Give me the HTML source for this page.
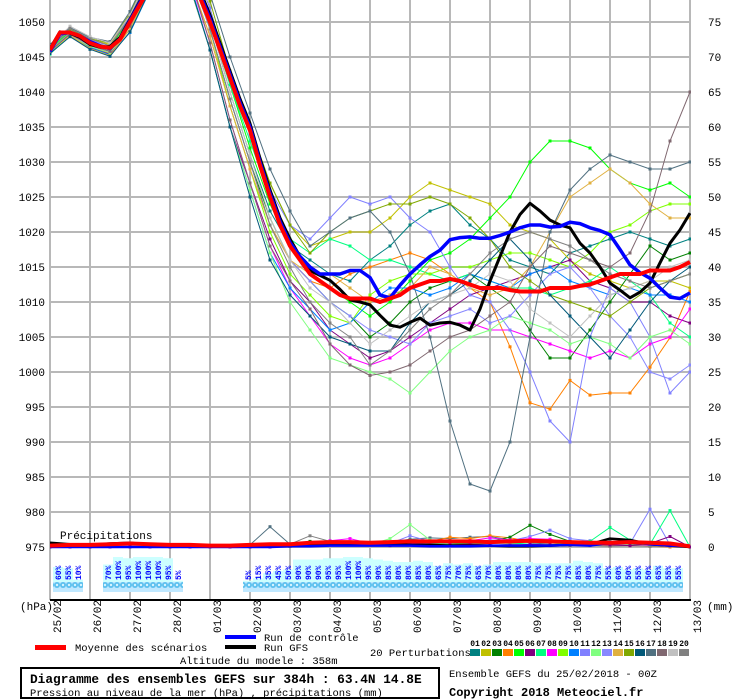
<!DOCTYPE html>
<html><head><meta charset="utf-8"><title>GEFS ensemble diagram</title>
<style>
html,body{margin:0;padding:0;background:#fff;}
svg{display:block;font-family:"Liberation Mono","DejaVu Sans Mono",monospace;}
</style></head>
<body>
<svg id="chart" width="740" height="700" viewBox="0 0 740 700" xmlns="http://www.w3.org/2000/svg">
<defs>
<clipPath id="plotclip"><rect x="50" y="0" width="641" height="600"/></clipPath>
<pattern id="snow" x="0" y="0" width="6" height="10" patternUnits="userSpaceOnUse">
<rect x="0" y="0" width="6" height="10" fill="#bfe8ff"/>
<circle cx="3" cy="5" r="3" fill="#5cc0ee"/>
<circle cx="3" cy="5" r="1.2" fill="#d8f4ff"/>
</pattern>
</defs>
<g id="grid"></g>
<g id="pctbars"></g>
<g id="series" clip-path="url(#plotclip)"></g>
<g id="axes"></g>
<text x="60" y="539" font-size="11" fill="#000">Précipitations</text>
<text x="20" y="610" font-size="11">(hPa)</text>
<text x="707" y="610" font-size="11">(mm)</text>
<g>
<rect x="35" y="645" width="31" height="5" fill="#ff0000"/>
<text x="75" y="651" font-size="10.5">Moyenne des scénarios</text>
<rect x="225" y="635" width="31" height="4" fill="#0000ff"/>
<text x="264" y="641" font-size="10.5">Run de contrôle</text>
<rect x="225" y="645" width="31" height="4" fill="#000"/>
<text x="264" y="651" font-size="10.5">Run GFS</text>
<text x="180" y="664" font-size="10.5">Altitude du modele : 358m</text>
<text x="370" y="656" font-size="10.5">20 Perturbations</text>
<g id="swatches"></g>
</g>
<rect x="21" y="668" width="418" height="30" fill="none" stroke="#000" stroke-width="2"/>
<text x="30" y="683" font-size="12.8" font-weight="bold">Diagramme des ensembles GEFS sur 384h : 63.4N 14.8E</text>
<text x="30" y="696" font-size="10.5">Pression au niveau de la mer (hPa) , précipitations (mm)</text>
<text x="449" y="677" font-size="10.5">Ensemble GEFS du 25/02/2018 - 00Z</text>
<text x="449" y="696" font-size="12" font-weight="bold">Copyright 2018 Meteociel.fr</text>
</svg>
<script>
// ---- data ----
const dateLabels = ["25/02","26/02","27/02","28/02","01/03","02/03","03/03","04/03","05/03","06/03","07/03","08/03","09/03","10/03","11/03","12/03","13/03"];
const pressureTicks = [1050,1045,1040,1035,1030,1025,1020,1015,1010,1005,1000,995,990,985,980,975];
const precipTicks = [75,70,65,60,55,50,45,40,35,30,25,20,15,10,5,0];
const pertLabels = ["01","02","03","04","05","06","07","08","09","10","11","12","13","14","15","16","17","18","19","20"];
const pertColors = ["#008080","#c0c000","#008000","#ff8000","#00ff00","#800080","#00ff80","#ff00ff","#80ff00","#0080ff","#8080ff","#80ff80","#8888ff","#e0b040","#80a800","#005878","#507080","#806870","#c0c0c0","#808080"];

// 6-hourly main runs (hPa), 0..384h
const meanSeries = [1046,1048.5,1048.5,1048,1047,1046.5,1046.3,1047.5,1050,1052.5,1055,1057,1058,1058,1056.5,1053.5,1050,1046,1042,1038,1034.5,1029.5,1025,1021,1018,1016,1014,1013,1012,1011,1010.5,1010.5,1010.5,1010,1010.5,1011,1012,1012.5,1013,1013,1013.3,1013,1012.5,1012,1012,1012,1011.7,1011.5,1011.5,1011.5,1012,1012,1012,1012.3,1012.5,1013,1013.5,1014,1014,1014,1014.5,1014.5,1014.5,1015,1015.7];
const controlSeries = [1045.8,1048.3,1048.5,1048,1047.2,1046.6,1046.2,1047.6,1050.2,1052.8,1055.2,1057,1058,1058.2,1057,1054,1050.5,1046.5,1042.5,1038.5,1035,1030,1025.5,1021.5,1018.5,1016.5,1015,1014,1014,1014,1014.5,1014.5,1013.5,1011,1010.6,1012.4,1014,1015.3,1016.5,1017.4,1018.9,1019.2,1019.3,1019.1,1019.1,1019.5,1020,1020.6,1021,1021,1020.7,1020.8,1021.4,1021.2,1020.6,1020.2,1019.6,1017.5,1015.3,1014.2,1013.4,1012,1010.7,1010.5,1011.3];
const gfsSeries = [1046.2,1048.6,1048.4,1047.8,1046.8,1046.4,1046.5,1047.8,1050.4,1053,1055.5,1057.3,1058.2,1058.5,1057.5,1054.5,1051,1047,1043,1039,1035.5,1030.5,1026,1022,1019,1016.5,1014.5,1013.8,1013.1,1011.8,1010.3,1010,1009.6,1008.1,1006.7,1006.4,1007.1,1007.7,1006.7,1007,1007.1,1006.7,1006,1009,1013,1016.5,1020,1022.5,1024.1,1023,1021.7,1021,1020.6,1018.4,1017,1015,1012.7,1011.7,1010.6,1011.4,1012.7,1015.6,1018.4,1020.3,1022.7];

// 12-hourly perturbations (hPa)
const p01 = [1046,1048.6,1047,1046,1050,1056,1059,1058,1050,1040,1031,1023,1018,1016,1014,1013,1016,1018,1021,1023,1024,1021,1019,1016,1015,1014,1017,1018,1019,1020,1019,1018,1019];
const p02 = [1046.5,1049,1047.5,1046.8,1051,1057,1060,1059,1052,1042,1034,1027,1021,1018,1019,1020,1020,1022,1025,1027,1026,1025,1024,1021,1020,1019,1016,1014,1013,1012,1013,1013,1012];
const p03 = [1046,1048.3,1046.8,1046,1050,1056,1059,1057,1049,1039,1030,1022,1016,1013,1010,1008,1005,1007,1010,1012,1013,1014,1012,1010,1006,1002,1002,1006,1010,1014,1018,1016,1017];
const p04 = [1045.7,1048,1046.5,1045.5,1049,1055,1058,1056,1048,1038,1029,1021,1016,1013,1012,1014,1015,1016,1017,1016,1014,1012,1010,1003.6,995.6,994.7,998.8,996.7,997,997,1000.7,1004.9,1011.5];
const p05 = [1046.2,1048.8,1047.2,1046.4,1050.5,1056.5,1059.5,1058.5,1051,1041,1032,1024,1018,1014,1012,1010,1008,1010,1013,1016,1017,1019,1022,1025,1030,1033,1033,1032,1029,1027,1026,1027,1025];
const p06 = [1045.5,1048,1046.3,1045.4,1049,1055,1057,1055,1046,1035,1027,1019,1013,1010,1006,1004,1002,1003,1005,1007,1009,1011,1012,1013,1014,1015,1016,1013,1012,1010,1010,1008,1007];
const p07 = [1045.4,1048.2,1046.6,1045.8,1049.5,1055.5,1058.5,1057.5,1050,1041,1033,1025,1019,1017,1019,1018,1016,1016,1015,1014,1013,1014,1013,1012,1012,1011,1012,1013,1015,1013,1011,1007,1005];
const p08 = [1045.8,1048.2,1046.6,1045.6,1049,1055,1058,1056,1047,1036,1027,1018,1012,1008,1004,1002,1001,1002,1004,1006,1007,1007,1006,1006,1005,1004,1003,1002,1003,1002,1004,1005,1009];
const p09 = [1046,1048.5,1047,1046.2,1050,1056,1059,1057,1049,1038,1029,1020,1014,1011,1008,1007,1011,1013,1014,1014,1015,1015,1016,1017,1017,1016,1015,1017,1020,1021,1023,1024,1024];
const p10 = [1045.6,1048,1046.4,1045.3,1048.5,1054.5,1057.5,1055.5,1046,1035,1026,1017,1012,1009,1006,1007,1010,1012,1012,1011,1012,1014,1013,1012,1014,1015,1013,1012,1011,1012,1011,1011,1010];
const p11 = [1046.3,1048.9,1047.4,1046.6,1050.8,1056.8,1059.8,1059,1052,1042,1034,1026,1021,1019,1022,1025,1024,1025,1022,1020,1015,1011,1010,1006,1000,993,990,1005,1012,1010,1005,997,1000];
const p12 = [1045.5,1048.1,1046.5,1045.6,1049,1054.5,1057,1055,1046,1035,1026,1017,1010,1006,1002,1001,1000,999,997,1000,1003,1005,1006,1008,1007,1006,1004,1005,1004,1002,1005,1006,1004];
const p13 = [1045.9,1048.4,1046.9,1046,1049.8,1055.8,1058.8,1057,1049,1039,1030,1021,1016,1013,1010,1008,1006,1005,1004,1007,1008,1009,1007,1008,1011,1014,1015,1012,1008,1005,1000,999,1001];
const p14 = [1045.8,1048.1,1046.2,1045.2,1049,1055,1058,1056,1048,1038,1029,1021,1016,1014,1014,1012,1010,1011,1012,1015,1014,1012,1011,1012,1015,1020,1025,1027,1029,1027,1024,1022,1022];
const p15 = [1046.4,1049,1047.6,1047,1051.2,1057.2,1060,1059.5,1053,1043,1035,1027,1021,1017,1020,1022,1023,1024,1024,1025,1024,1022,1019,1015,1013,1011,1010,1009,1008,1010,1012,1013,1014];
const p16 = [1045.5,1047.9,1046.1,1045.1,1048.6,1054.6,1057.4,1055.2,1046,1035,1025,1016,1011,1008,1005,1004,1003,1003,1007,1010,1011,1013,1016,1019,1016,1011,1008,1005,1002,1006,1010,1013,1015];
const p17 = [1046.8,1049.2,1047.8,1047.2,1051.5,1057.5,1060.5,1060,1054,1045,1037,1029,1023,1018,1020,1022,1023,1020,1014,1005,993,984,983,990,1005,1020,1026,1029,1031,1030,1029,1029,1030];
const p18 = [1045.8,1048.3,1046.7,1045.8,1049.4,1055.4,1058.2,1056.4,1047,1036,1027,1018,1013,1009,1004,1001,999.5,1000,1001,1003,1005,1006,1008,1010,1015,1018,1017,1016,1015,1017,1023,1033,1040];
const p19 = [1046.6,1049.4,1047.9,1047,1051,1057,1060,1058.5,1050,1040,1031,1022,1016,1012,1010,1007,1004,1006,1008,1010,1011,1012,1014,1013,1009,1007,1005,1008,1011,1012,1013,1015,1016];
const p20 = [1046.4,1049.1,1047.6,1046.6,1050.6,1056.6,1059.6,1058,1049,1039,1030,1021,1015,1010,1007,1005,1001,1003,1006,1009,1011,1014,1017,1019,1020,1019,1018,1016,1014,1013,1012,1013,1014];
const perturbations = [p01,p02,p03,p04,p05,p06,p07,p08,p09,p10,p11,p12,p13,p14,p15,p16,p17,p18,p19,p20];

// 12-hourly precipitation (mm)
const precipMean = [0.2,0.3,0.3,0.4,0.5,0.4,0.3,0.3,0.2,0.2,0.3,0.4,0.4,0.6,0.7,0.7,0.6,0.7,0.8,0.8,0.8,0.8,0.7,0.8,0.9,0.8,0.7,0.6,0.6,0.7,0.6,0.5,0.1];
const precipControl = [0,0,0,0,0,0,0,0,0,0,0,0,0.1,0.1,0.2,0.2,0.2,0.2,0.2,0.1,0.1,0.1,0.2,0.2,0.2,0.2,0.3,0.2,0.6,0.8,0.4,0.2,0.1];
const precipGfs = [0.6,0.4,0.3,0.5,0.6,0.3,0.2,0.2,0.2,0.2,0.2,0.3,0.3,0.4,0.5,0.4,0.4,0.4,0.3,0.3,0.2,0.2,0.2,0.1,0.1,0.2,0.3,0.4,1.2,1.0,0.4,0.2,0];
const precip17 = [0,0,0,0,0,0,0,0,0,0,0.3,2.9,0.4,0.6,0.8,0.6,0.5,0.7,1.1,1.3,1.2,1.4,1.5,1.0,0.6,0.4,0.3,0.6,0.8,0.4,0.2,0.1,0];
const precip12 = [0,0,0,0,0,0,0,0,0,0,0,0,0.2,0.3,0.5,0.4,0.3,1.2,3.2,1.0,0.6,0.4,0.6,0.5,0.4,0.3,0.5,0.6,0.4,0.3,0.2,0.2,0];
const precip04 = [0,0,0,0,0,0,0,0,0,0,0,0,0.2,0.4,0.3,0.4,0.5,0.3,0.4,0.8,1.4,1.2,1.6,1.3,0.8,0.6,0.4,0.3,0.2,0.2,0.1,0,0];
const precip03 = [0,0,0,0,0,0,0,0,0,0,0,0,0.3,0.8,0.5,0.4,0.4,0.5,0.6,0.3,0.4,0.5,0.8,1.4,3.1,1.8,0.8,0.4,0.5,0.6,0.3,0.1,0];
const precip11 = [0,0,0,0,0,0,0,0,0,0,0,0,0.2,0.5,0.6,0.6,0.4,0.5,1.6,0.8,0.6,0.7,1.0,0.9,1.5,2.4,1.2,0.9,0.3,0.5,5.4,0.3,0];
const precip07 = [0,0,0,0,0,0,0,0,0,0,0,0,0.1,0.3,0.5,0.4,0.3,0.4,0.6,0.5,0.4,0.4,0.5,0.6,0.4,0.3,0.6,0.8,2.8,1.0,0.4,5.2,0];
const precip08 = [0,0,0,0,0,0,0,0,0,0,0,0,0.2,0.5,0.9,1.2,0.5,0.4,0.5,0.6,0.7,0.9,1.3,1.0,1.2,1.1,0.6,0.4,0.3,0.2,0.2,0.1,0];
const precip20 = [0,0,0,0,0,0,0,0,0,0,0,0,0.4,1.6,0.8,0.5,0.4,0.4,0.3,0.3,0.2,0.3,0.2,0.4,0.3,0.2,0.2,0.2,0.1,0.2,0.1,0.1,0];
const precip06 = [0,0,0,0,0,0,0,0,0,0,0,0,0.1,0.4,0.3,0.4,0.3,0.2,0.3,0.2,0.3,0.4,0.3,0.2,0.4,0.3,0.3,0.4,0.3,0.2,0.5,1.5,0];
const precipPert = [precip17,precip12,precip04,precip03,precip11,precip07,precip08,precip20,precip06];
const precipPertIdx = [16,11,3,2,10,6,7,19,5];

// snow probability (%) per 6h step, three groups
const snowGroupStart = [0,5,19]; // 6h step index of first label in each group
const snowPct1 = [60,55,10];
const snowPct2 = [70,100,95,100,100,100,95,5];
const snowPct3 = [5,15,35,45,50,90,90,90,95,95,100,100,95,90,85,80,80,85,80,65,75,70,75,65,70,80,80,80,80,75,75,75,75,85,80,75,55,60,50,55,50,65,55,55];
const snowGroups = [snowPct1,snowPct2,snowPct3];

// ---- scales ----
const X0 = 50, PX_PER_H = 40/24;
function xH(h){ return X0 + h*PX_PER_H; }
function yP(p){ return 22 + (1050-p)*7; }
function yMM(mm){ return 547 - mm*7; }
const NS = "http://www.w3.org/2000/svg";
function mk(tag, attrs, parent){ const e=document.createElementNS(NS,tag); for(const k in attrs) e.setAttribute(k,attrs[k]); parent.appendChild(e); return e; }

const grid = document.getElementById('grid');
const axes = document.getElementById('axes');
const series = document.getElementById('series');
const pct = document.getElementById('pctbars');

// grid
pressureTicks.forEach(function(p){
  const l = mk('line',{x1:50,x2:690,y1:yP(p),y2:yP(p),stroke:'#b8b8b8','stroke-width':2},grid);
  
  
  const t = mk('text',{x:45,y:yP(p)+4,'font-size':11,'text-anchor':'end'},axes);
  t.textContent = p;
  
  
});
precipTicks.forEach(function(mm){
  const t = mk('text',{x:708,y:yMM(mm)+4,'font-size':11},axes);
  t.textContent = mm;
  
  
});
dateLabels.forEach(function(d,i){
  const x = xH(i*24);
  const l = mk('line',{x1:x,x2:x,y1:0,y2:600,stroke:'#b8b8b8','stroke-width':2},grid);
  
  
  const t = mk('text',{x:0,y:0,'font-size':11,transform:'translate('+(x+11)+',633) rotate(-90)'},axes);
  t.textContent = d;
  
  
});
const ax = mk('line',{x1:50,x2:691,y1:600,y2:600,stroke:'#000','stroke-width':2},axes);



// snow probability bars
snowGroups.forEach(function(g,gi){
  const first = snowGroupStart[gi];
  g.forEach(function(v,j){
    const cx = xH((first+j)*6)+8;
    const h = 10 + v*0.25;
    const r = mk('rect',{x:cx-5,y:592-h,width:10,height:h-10,fill:'#ccffff'},pct);
    
    
  });
  const strip = mk('rect',{x:xH(first*6)+3,y:582,width:g.length*10,height:10,fill:'url(#snow)'},pct);
  
  
  g.forEach(function(v,j){
    const cx = xH((first+j)*6)+8;
    const t = mk('text',{x:0,y:0,'font-size':8,'font-weight':'bold',fill:'#0000ff',transform:'translate('+(cx+3)+',580) rotate(-90)'},pct);
    t.textContent = v+'%';
    
    
  });
});

function drawLine(vals, stepH, yf, color, width, markers, name){
  const pts = vals.map(function(v,i){ return [xH(i*stepH), yf(v)]; });
  const pl = mk('polyline',{points:pts.map(function(p){return p[0].toFixed(1)+','+p[1].toFixed(1);}).join(' '),fill:'none',stroke:color,'stroke-width':width,'stroke-linejoin':'round'},series);
  
  
  if(markers){
    pts.forEach(function(p){ mk('rect',{x:p[0]-1.5,y:p[1]-1.5,width:3,height:3,fill:color},series); });
  }
}

// perturbation precip
precipPert.forEach(function(arr,k){
  drawLine(arr,12,yMM,pertColors[precipPertIdx[k]],1,true,'precip-perturbation-'+pertLabels[precipPertIdx[k]]);
});
// perturbation pressure
perturbations.forEach(function(arr,k){
  drawLine(arr,12,yP,pertColors[k],1,true,'pressure-perturbation-'+pertLabels[k]);
});
drawLine(precipGfs,12,yMM,'#000',2.5,false,'precip-gfs');
drawLine(precipControl,12,yMM,'#0000ff',2.5,false,'precip-control');
drawLine(precipMean,12,yMM,'#ff0000',4,false,'precip-mean');
drawLine(gfsSeries,6,yP,'#000',3,false,'pressure-gfs');
drawLine(controlSeries,6,yP,'#0000ff',3.5,false,'pressure-control');
drawLine(meanSeries,6,yP,'#ff0000',4,false,'pressure-mean');

// legend swatches
const sw = document.getElementById('swatches');
pertColors.forEach(function(c,i){
  const x = 470 + i*11;
  const r = mk('rect',{x:x,y:649,width:10,height:7,fill:c},sw);
  
  
  const t = mk('text',{x:x+5,y:646,'font-size':8,'font-weight':'bold','text-anchor':'middle'},sw);
  t.textContent = pertLabels[i];
  
  
});
</script>
</body></html>
